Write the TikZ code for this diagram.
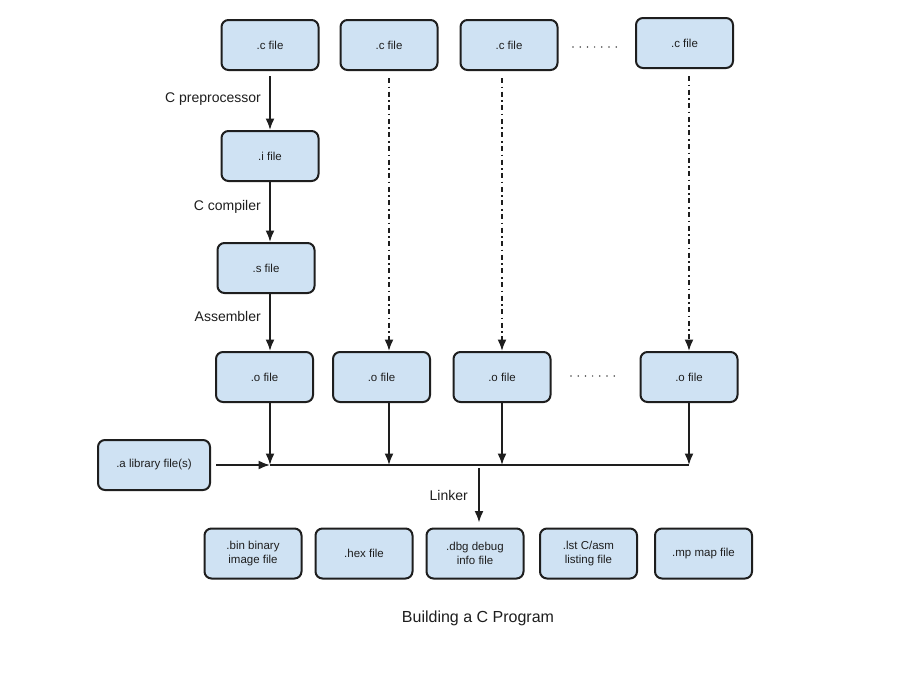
\documentclass[tikz,border=0pt]{standalone}
\usepackage{fontspec}
\setmainfont{Liberation Sans}
\usetikzlibrary{arrows.meta,calc}
\definecolor{boxfill}{HTML}{CFE2F3}
\definecolor{ink}{HTML}{1E1E1E}
\begin{document}
\begin{tikzpicture}[x=1pt,y=-1pt,
  filebox/.style={draw=ink,fill=boxfill,line width=2pt,rounded corners=7pt,
    minimum width=97pt,minimum height=50pt,align=center,inner sep=0pt,
    font=\fontsize{11.5}{14}\selectfont,text=ink},
  arr/.style={draw=ink,line width=1.8pt,-{Latex[length=11.5pt,width=9pt]}},
  ddarr/.style={arr,dash pattern=on 5pt off 3.5pt on 1.6pt off 3.5pt},
  busline/.style={draw=ink,line width=1.8pt},
  lbl/.style={font=\fontsize{14}{16}\selectfont,text=ink,inner sep=0pt},
  dotrow/.style={draw=ink!80,line width=1.7pt,line cap=round,dash pattern=on 0pt off 7.2pt}]
\path[fill=white,use as bounding box] (0,0) rectangle (900,680);

% top row
\node[filebox] (c1) at (270,45) {.c file};
\node[filebox] (c2) at (389,45) {.c file};
\node[filebox] (c3) at (509,45) {.c file};
\node[filebox] (c4) at (684.5,43) {.c file};

% first column
\node[filebox] (i) at (270,156) {.i file};
\node[filebox] (s) at (266,268) {.s file};

% object row
\node[filebox] (o1) at (264.5,377) {.o file};
\node[filebox] (o2) at (381.5,377) {.o file};
\node[filebox] (o3) at (502,377) {.o file};
\node[filebox] (o4) at (689,377) {.o file};

% library
\node[filebox,minimum width=112pt] (lib) at (154,465) {.a library file(s)};

% outputs
\node[filebox] (bin) at (253,553.5) {.bin binary\\image file};
\node[filebox] (hex) at (364,553.5) {.hex file};
\node[filebox] (dbg) at (475,553.5) {.dbg debug\\info file};
\node[filebox] (lst) at (588.5,553.5) {.lst C/asm\\listing file};
\node[filebox] (mp) at (703.5,553.5) {.mp map file};

% title
\node[font=\fontsize{16}{19}\selectfont,text=ink,inner sep=0pt] (title) at (478,618) {Building a C Program};

% labels
\node[lbl,anchor=east] (lpre) at (261,99) {C preprocessor};
\node[lbl,anchor=east] (lcomp) at (261,207) {C compiler};
\node[lbl,anchor=east] (lasm) at (261,316) {Assembler};
\node[lbl,anchor=east] (llink) at (468,495) {Linker};

% bus coordinates
\coordinate (b1) at (270,465);
\coordinate (b2) at (389,465);
\coordinate (b3) at (502,465);
\coordinate (b4) at (689,465);
\coordinate (bl) at (479,465);

% dots
\coordinate (d1) at (573,47);
\coordinate (d2) at (617,47);
\coordinate (d3) at (571,376);
\coordinate (d4) at (615,376);
\draw[dotrow] (d1) -- (d2);
\draw[dotrow] (d3) -- (d4);

% first column chain
\draw[arr] ($(c1.south)+(0,5)$) -- (i.north);
\draw[arr] (i.south) -- (i.south |- s.north);
\draw[arr] (s.south -| i) -- (o1.north -| i);

% dash-dot chains
\draw[ddarr] ($(c2.south)+(0,7)$) -- (o2.north -| c2);
\draw[ddarr] ($(c3.south -| o3)+(0,7)$) -- (o3.north);
\draw[ddarr] ($(c4.south -| o4)+(0,7)$) -- (o4.north);

% objects into bus
\draw[arr] (o1.south -| b1) -- (b1);
\draw[arr] (o2.south -| b2) -- (b2);
\draw[arr] (o3.south -| b3) -- (b3);
\draw[arr] (o4.south -| b4) -- (b4);
\draw[arr] ($(lib.east)+(5,0)$) -- (b1);
\draw[busline] (b1) -- (b4);

% linker
\draw[arr] ($(bl)+(0,3)$) -- ($(dbg.north -| bl)+(0,-5)$);
\end{tikzpicture}
\end{document}
